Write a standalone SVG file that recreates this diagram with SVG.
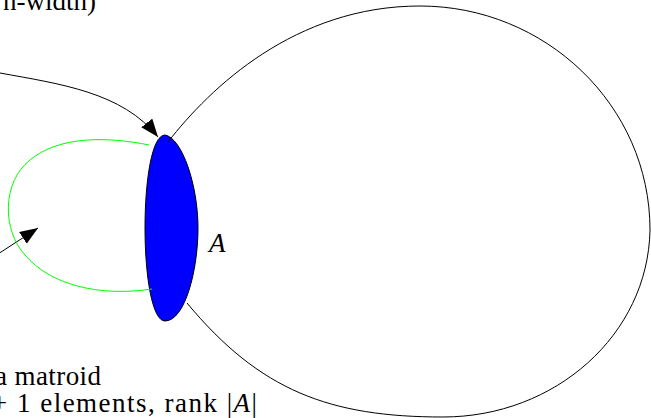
<svg xmlns="http://www.w3.org/2000/svg" width="651" height="418" viewBox="0 0 651 418">
<style>
text{font-family:'Liberation Serif','Times New Roman',serif;font-size:27px;fill:#000}
.it{font-style:italic}
.edge{fill:none;stroke:#000;stroke-width:1}
.green{fill:none;stroke:#00ff00;stroke-width:1}
</style>
<defs>
<marker id="ah" markerUnits="userSpaceOnUse" markerWidth="19" markerHeight="15" refX="18" refY="7" orient="auto">
<path d="M0,0 L18,7 L0,14 Z" fill="#000"/>
</marker>
</defs>
<rect width="651" height="418" fill="#fff"/>
<g id="nodeA">
<path d="M165,135 C182,138 198,185 198,228 C198,270 185,321 165,321 C152,321 145,275 145,228 C145,180 152,135 165,135 Z" fill="#0000ff" stroke="#000" stroke-width="1"/>
<text class="it" x="209" y="252">A</text>
</g>
<g id="label-top">
<text x="96" y="10" text-anchor="end">n-width)</text>
</g>
<g id="label-bottom">
<text x="-5" y="385" textLength="106" lengthAdjust="spacing">a matroid</text>
<text x="-8" y="412" textLength="265" lengthAdjust="spacing">+ 1 elements, rank |<tspan class="it">A</tspan>|</text>
</g>
<g id="connectors">
<path class="edge" d="M168,142 C210,88 295,6 420,6 C545,6 650,105 650,230 C648,335 555,417 443,417 C330,417 260,391 187,303"/>
<path class="edge" d="M0,73 C60,84 122,92 158,137" marker-end="url(#ah)"/>
<path class="edge" d="M-2,254 L38,228" marker-end="url(#ah)"/>
<path class="green" d="M149,145 C110,137 60,135 30,160 C2,182 2,230 25,255 C50,285 100,297 152,289"/>
</g>
</svg>
